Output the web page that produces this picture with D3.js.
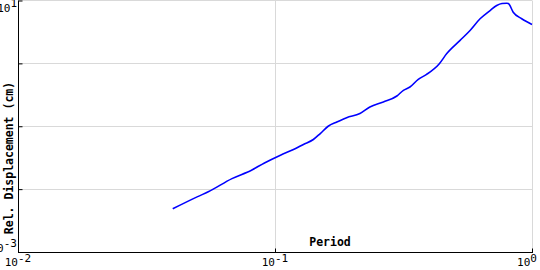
<!DOCTYPE html>
<html>
<head>
<meta charset="utf-8">
<script src="https://cdn.jsdelivr.net/npm/d3@7"></script>
<style>
  body { margin: 0; background: #fff; }
  text { font-family: "DejaVu Sans Mono", monospace; }
</style>
</head>
<body>
<div id="chart"></div>
<script>
// period (s) vs relative displacement (cm)
var periods = [0.040, 0.050, 0.055, 0.068, 0.081, 0.091, 0.105, 0.118, 0.129, 0.141,
               0.150, 0.161, 0.174, 0.190, 0.214, 0.234, 0.264, 0.298, 0.316, 0.335,
               0.361, 0.389, 0.436, 0.466, 0.525, 0.574, 0.628, 0.687, 0.729, 0.764,
               0.797, 0.809, 0.845, 0.912, 1.0];
var displacement = [0.00486, 0.0076, 0.00906, 0.0147, 0.0200, 0.0261, 0.0347, 0.0427, 0.0513, 0.0615,
                    0.0766, 0.100, 0.117, 0.137, 0.159, 0.202, 0.243, 0.303, 0.373, 0.421,
                    0.557, 0.669, 0.989, 1.43, 2.32, 3.34, 5.12, 6.93, 8.33, 8.96,
                    9.06, 8.96, 6.52, 5.12, 4.16];

var xTicks = [0.01, 0.1, 1];
var xTickLabels = [["10", "-2"], ["10", "-1"], ["10", "0"]];
var yTicks = [10, 1, 0.1, 0.01, 0.001];
var yTickLabels = [["10", "1"], null, null, null, ["10", "-3"]];  // only the ends get a label

var W = 540, H = 270;
// NB: don't call these top/left at global scope, window.top is read-only
var pLeft = 18, pTop = 0.5, pRight = 532, pBottom = 252;

var svg = d3.select("#chart").append("svg")
    .attr("width", W)
    .attr("height", H);

var x = d3.scaleLog().domain([0.01, 1]).range([pLeft, pRight]);
var y = d3.scaleLog().domain([0.001, 10]).range([pBottom, pTop]);

// grid
svg.selectAll(".gx").data(xTicks).enter().append("line")
    .attr("class", "gx")
    .attr("x1", function(d) { return Math.round(x(d)) + 0.5; })
    .attr("x2", function(d) { return Math.round(x(d)) + 0.5; })
    .attr("y1", pTop).attr("y2", pBottom)
    .attr("stroke", "#d9d9d9");
svg.selectAll(".gy").data(yTicks).enter().append("line")
    .attr("class", "gy")
    .attr("y1", function(d) { return Math.floor(y(d)) + 0.5; })
    .attr("y2", function(d) { return Math.floor(y(d)) + 0.5; })
    .attr("x1", pLeft).attr("x2", pRight)
    .attr("stroke", "#d9d9d9");

// axes (ticks point inward)
var xAxis = d3.axisTop(x).tickValues(xTicks).tickSize(4).tickFormat("");
var yAxis = d3.axisRight(y).tickValues(yTicks).tickSize(4).tickFormat("");

var gx = svg.append("g").attr("transform", "translate(0," + (pBottom + 0.5) + ")").call(xAxis);
var gy = svg.append("g").attr("transform", "translate(" + (pLeft + 0.5) + ",0)").call(yAxis);
gx.select(".domain").attr("d", "M" + pLeft + ",0H" + (pRight + 1));
gy.select(".domain").attr("d", "M0," + pTop + "V" + (pBottom + 1));
svg.selectAll(".domain").attr("stroke", "#000").attr("stroke-width", 1);
svg.selectAll(".tick line").attr("stroke", "#000");

// tick labels as 10 + superscript
svg.selectAll(".xl").data(xTicks).enter().append("text")
    .attr("class", "xl")
    .attr("x", function(d) { return Math.min(x(d), 527); })
    .attr("y", 266)
    .attr("text-anchor", "middle")
    .attr("font-size", 11)
    .each(function(d, i) {
        var t = d3.select(this);
        t.append("tspan").text(xTickLabels[i][0]);
        t.append("tspan").attr("dy", -4).text(xTickLabels[i][1]);
    });

svg.selectAll(".yl").data(yTicks.filter(function(d, i) { return yTickLabels[i]; })).enter().append("text")
    .attr("class", "yl")
    .attr("x", 17)
    .attr("y", function(d) { return Math.min(Math.max(y(d) + 3, 12), 252); })
    .attr("text-anchor", "end")
    .attr("font-size", 11)
    .each(function(d) {
        var lab = yTickLabels[yTicks.indexOf(d)];
        var t = d3.select(this);
        t.append("tspan").text(lab[0]);
        t.append("tspan").attr("dy", -5).text(lab[1]);
    });

// the curve
var line = d3.line()
    .x(function(d, i) { return x(periods[i]); })
    .y(function(d) { return y(d); })
    .curve(d3.curveMonotoneX);

svg.append("path")
    .datum(displacement)
    .attr("d", line)
    .attr("fill", "none")
    .attr("stroke", "#0000ff")
    .attr("stroke-width", 1.6);

// axis titles
svg.append("text")
    .attr("x", 330).attr("y", 246)
    .attr("text-anchor", "middle")
    .attr("font-size", 11.5)
    .attr("font-weight", "bold")
    .text("Period");

svg.append("text")
    .attr("transform", "translate(12.5,158) rotate(-90)")
    .attr("text-anchor", "middle")
    .attr("font-size", 11.5)
    .attr("font-weight", "bold")
    .text("Rel. Displacement (cm)");
</script>
</body>
</html>
